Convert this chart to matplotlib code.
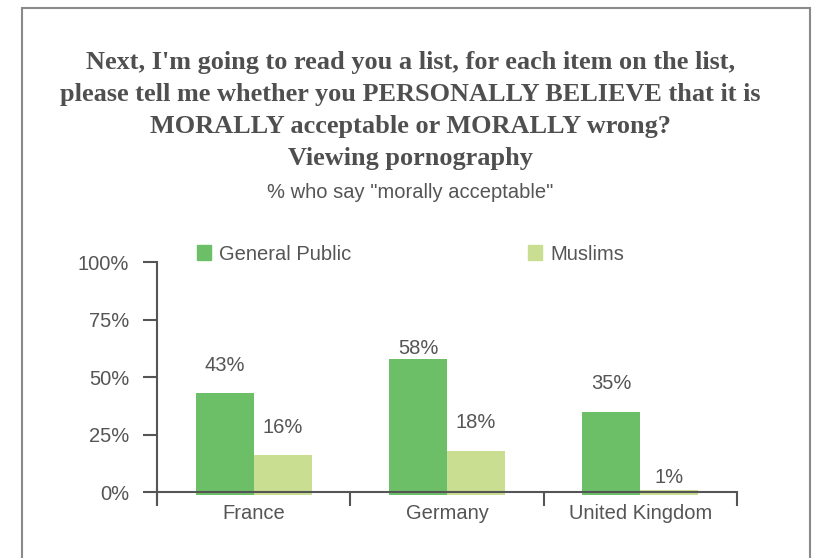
import numpy as np
import matplotlib
matplotlib.use('Agg')
import matplotlib.pyplot as plt
from matplotlib.patches import Rectangle, Patch

plt.rcParams['font.family'] = ['Liberation Sans', 'DejaVu Sans']

countries = ['France', 'Germany', 'United Kingdom']
general_public = [43, 58, 35]
muslims = [16, 18, 1]
yticks = [0, 25, 50, 75, 100]

title_lines = [
    "Next, I'm going to read you a list, for each item on the list,",
    "please tell me whether you PERSONALLY BELIEVE that it is",
    "MORALLY acceptable or MORALLY wrong?",
    "Viewing pornography",
]
subtitle = '% who say "morally acceptable"'

gp_color = '#6dbf67'
mu_color = '#c9de90'
txt = '#555555'
fs = 14.5

W, H = 821, 558
fig = plt.figure(figsize=(W / 100, H / 100), dpi=100)

# frame around the chart
fig.patches.append(Rectangle((22 / W, -0.1), 788 / W, 1.1 - 8 / H, transform=fig.transFigure,
                             fill=False, edgecolor='#8a8a8a', linewidth=1.5))

ys = [62, 94, 126, 158]
for line, y in zip(title_lines, ys):
    fig.text(0.5, 1 - y / H, line, ha='center', va='center', family='Liberation Serif',
             fontweight='bold', fontsize=18.9, color='#4f4f4f')
fig.text(0.5, 1 - 192 / H, subtitle, ha='center', va='center', fontsize=14.5, color=txt)

# axes: 0 -> y=492, 100 -> y=262
ymin = -5
px_per = 2.3
bottom_px = 492 - ymin * px_per
ax = fig.add_axes([157 / W, 1 - bottom_px / H, 580 / W, (bottom_px - 262) / H])

x = np.arange(len(countries))
w = 0.3
ax.bar(x - w / 2, np.array(general_public) + 1.5, w, bottom=-1.5, color=gp_color)
ax.bar(x + w / 2, np.array(muslims) + 1.5, w, bottom=-1.5, color=mu_color)

gp_off = [28, 10, 28]
mu_off = [28, 28, 12]
for xi, v, o in zip(x, general_public, gp_off):
    ax.annotate(f'{v}%', (xi - w / 2, v), xytext=(0, o * 0.72), textcoords='offset points',
                ha='center', va='center', fontsize=fs, color=txt)
for xi, v, o in zip(x, muslims, mu_off):
    ax.annotate(f'{v}%', (xi + w / 2, v), xytext=(0, o * 0.72), textcoords='offset points',
                ha='center', va='center', fontsize=fs, color=txt)

ax.set_xlim(-0.5, 2.5)
ax.set_ylim(ymin, 100)
for s in ['top', 'right']:
    ax.spines[s].set_visible(False)
ax.spines['bottom'].set_position(('data', 0))
ax.spines['left'].set_bounds(ymin, 100)
for s in ['bottom', 'left']:
    ax.spines[s].set_color('#555555')
    ax.spines[s].set_linewidth(1.5)

ax.set_yticks(yticks)
ax.set_yticklabels([f'{t}%' for t in yticks])
ax.tick_params(axis='y', length=10, width=1.5, color='#555555', labelsize=fs,
               labelcolor=txt, pad=10)
ax.set_xticks([-0.5, 0.5, 1.5, 2.5])
ax.set_xticklabels([])
ax.tick_params(axis='x', length=10, width=1.5, color='#555555', direction='out')
for xi, c in zip(x, countries):
    ax.text(xi, -9.5, c, ha='center', va='center', fontsize=fs, color=txt)

handles = [Patch(color=gp_color), Patch(color=mu_color)]
fig.legend(handles, ['General Public', 'Muslims'], ncol=2, frameon=False,
           loc='center left', bbox_to_anchor=(179 / W, 1 - 254 / H), fontsize=fs,
           handlelength=0.7, handleheight=0.7, handletextpad=0.4, columnspacing=8.75,
           labelcolor=txt)

plt.savefig('out.png', dpi=100)
